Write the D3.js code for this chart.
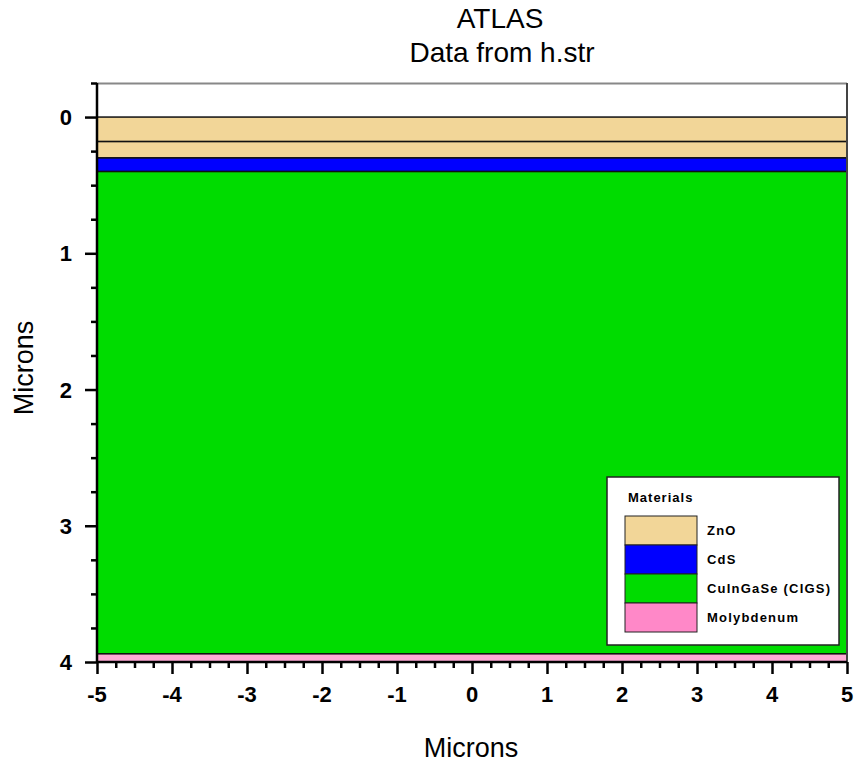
<!DOCTYPE html>
<html>
<head>
<meta charset="utf-8">
<script src="https://cdn.jsdelivr.net/npm/d3@7"></script>
<style>
  body { margin: 0; background: #fff; }
  svg { display: block; font-family: "Liberation Sans", Arial, sans-serif; }
</style>
</head>
<body>
<svg id="chart"></svg>
<script>
// materials and their colours
var materials = ["ZnO", "CdS", "CuInGaSe (CIGS)", "Molybdenum"];
var materialColors = ["#f2d698", "#0000ff", "#00dc00", "#ff88c8"];

// layers of the structure, depth in microns
var layerTop = [0, 0.18, 0.30, 0.40, 3.94];
var layerBottom = [0.18, 0.30, 0.40, 3.94, 4.00];
var layerMaterial = [0, 0, 1, 2, 3];

var xTicks = [-5, -4, -3, -2, -1, 0, 1, 2, 3, 4, 5];
var yTicks = [0, 1, 2, 3, 4];

var svg = d3.select("#chart").attr("width", 855).attr("height", 762),
    margin = {top: 83, right: 8, bottom: 100, left: 97};

var x = d3.scaleLinear().domain([-5, 5]).range([0, 750]),
    y = d3.scaleLinear().domain([-0.25, 4]).range([0, 579]);

var g = svg.append("g")
    .attr("transform", "translate(" + margin.left + "," + margin.top + ")");

// layers
var layers = layerTop.map(function(t, i) {
    return {top: t, bottom: layerBottom[i], m: layerMaterial[i]};
});

g.selectAll(".layer")
    .data(layers)
    .enter().append("rect")
    .attr("class", "layer")
    .attr("x", x(-5))
    .attr("y", function(d) { return y(d.top); })
    .attr("width", x(5) - x(-5))
    .attr("height", function(d) { return y(d.bottom) - y(d.top); })
    .attr("fill", function(d) { return d.m == 3 ? "#ffaad6" : materialColors[d.m]; })
    .attr("stroke", "#111")
    .attr("stroke-width", 1.5);

// frame: top and right
g.append("line").attr("x1", x(-5)).attr("x2", x(5)).attr("y1", 0.5).attr("y2", 0.5)
    .attr("stroke", "#888").attr("stroke-width", 2);
g.append("line").attr("x1", x(5)).attr("x2", x(5)).attr("y1", 0).attr("y2", y(4))
    .attr("stroke", "#444").attr("stroke-width", 2);

// y axis
var yAxis = g.append("g")
    .attr("class", "axis axis--y")
    .call(d3.axisLeft(y).tickValues(d3.range(-0.25, 4.01, 0.25))
        .tickSize(6).tickFormat(""));
yAxis.selectAll(".tick line")
    .filter(function(d) { return yTicks.indexOf(d) > -1; })
    .attr("x2", -12);
yAxis.selectAll("line, path").attr("stroke", "#000").attr("stroke-width", 2.5);
yAxis.select(".domain").attr("d", "M0,0V" + y(4));

g.selectAll(".ylab")
    .data(yTicks)
    .enter().append("text")
    .attr("class", "ylab")
    .attr("x", -25)
    .attr("y", function(d) { return y(d) + 8; })
    .attr("text-anchor", "end")
    .attr("font-size", 22)
    .attr("font-weight", "bold")
    .text(function(d) { return d; });

// x axis
var xAxis = g.append("g")
    .attr("class", "axis axis--x")
    .attr("transform", "translate(0," + y(4) + ")")
    .call(d3.axisBottom(x).tickValues(d3.range(-5, 5.01, 0.25))
        .tickSize(6).tickFormat(""));
xAxis.selectAll(".tick line")
    .filter(function(d) { return xTicks.indexOf(d) > -1; })
    .attr("y2", 12);
xAxis.selectAll("line, path").attr("stroke", "#000").attr("stroke-width", 2.5);
xAxis.select(".domain").attr("d", "M0,0H" + x(5));

g.selectAll(".xlab")
    .data(xTicks)
    .enter().append("text")
    .attr("class", "xlab")
    .attr("x", function(d) { return x(d); })
    .attr("y", y(4) + 40)
    .attr("text-anchor", "middle")
    .attr("font-size", 22)
    .attr("font-weight", "bold")
    .text(function(d) { return d; });

// titles
svg.append("text").attr("x", 500).attr("y", 28).attr("text-anchor", "middle")
    .attr("font-size", 28).text("ATLAS");
svg.append("text").attr("x", 502).attr("y", 62).attr("text-anchor", "middle")
    .attr("font-size", 28).text("Data from h.str");
svg.append("text").attr("x", 471).attr("y", 757).attr("text-anchor", "middle")
    .attr("font-size", 27).text("Microns");
svg.append("text").attr("transform", "translate(33,368) rotate(-90)")
    .attr("text-anchor", "middle").attr("font-size", 27).text("Microns");

// legend
var legend = svg.append("g").attr("transform", "translate(607,477)");
legend.append("rect").attr("width", 232).attr("height", 168)
    .attr("fill", "#fff").attr("stroke", "#222").attr("stroke-width", 1.5);
legend.append("text").attr("x", 21).attr("y", 25)
    .attr("font-size", 13).attr("font-weight", "bold")
    .attr("letter-spacing", 1).text("Materials");

var item = legend.selectAll(".item")
    .data(materials)
    .enter().append("g")
    .attr("class", "item")
    .attr("transform", function(d, i) { return "translate(18," + (39 + i * 29) + ")"; });
item.append("rect").attr("width", 72).attr("height", 29)
    .attr("fill", function(d, i) { return materialColors[i]; })
    .attr("stroke", "#222").attr("stroke-width", 1);
item.append("text").attr("x", 82).attr("y", 19)
    .attr("font-size", 13).attr("font-weight", "bold")
    .attr("letter-spacing", 1.2)
    .text(function(d) { return d; });
</script>
</body>
</html>
